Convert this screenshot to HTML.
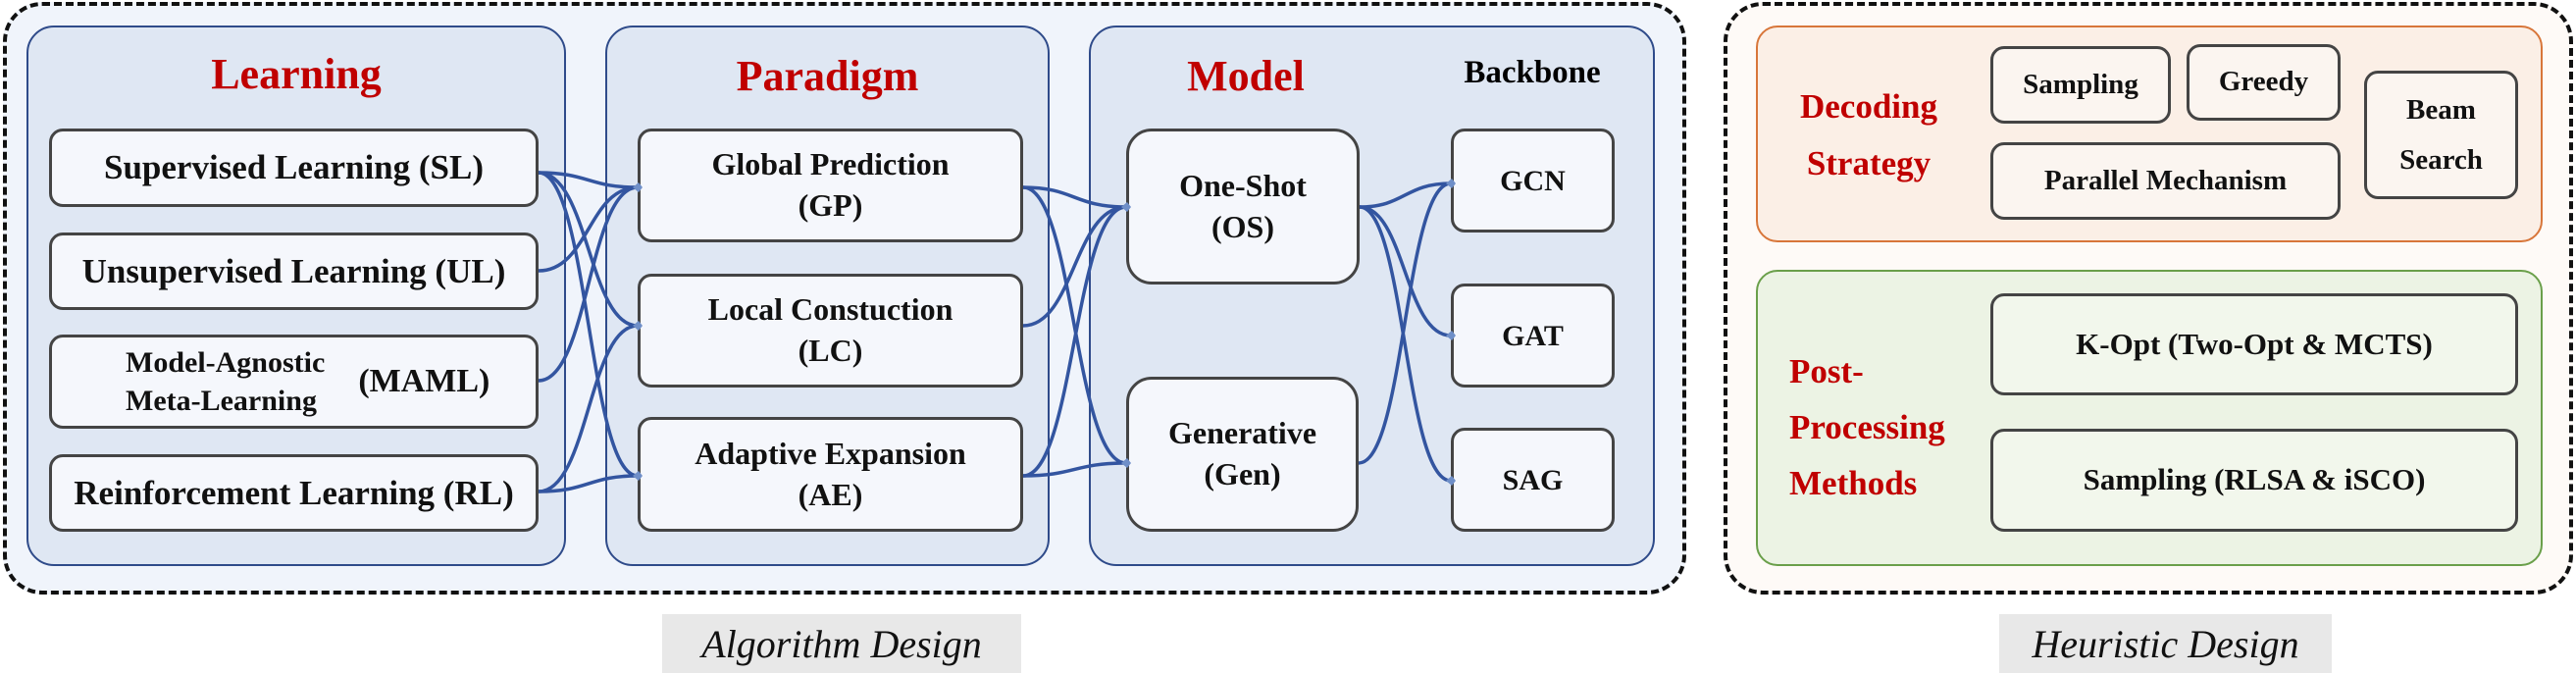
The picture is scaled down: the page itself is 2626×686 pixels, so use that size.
<!DOCTYPE html>
<html><head><meta charset="utf-8"><style>
body{margin:0;width:2626px;height:686px;background:#fff;position:relative;overflow:hidden;font-family:"Liberation Serif",serif;}
div{position:absolute;box-sizing:border-box;}
.dash{border:4px dashed #111;border-radius:40px;}
.panel{background:#dfe7f3;border:2px solid #2f4b8a;border-radius:28px;}
.box{background:#f5f7fc;border:3px solid #444;border-radius:14px;display:flex;align-items:center;justify-content:center;text-align:center;font-weight:bold;color:#111;line-height:1.3;white-space:nowrap;}
.t{font-weight:bold;color:#c00000;text-align:center;}
.lab{background:#e8e8e8;font-style:italic;font-size:40px;display:flex;align-items:center;justify-content:center;color:#111;}
</style></head><body>
<div class="dash" style="left:3px;top:2px;width:1716px;height:604px;background:#f0f4fb;"></div>
<div class="dash" style="left:1757px;top:2px;width:866px;height:604px;background:#fefaf7;"></div>

<div class="panel" style="left:27px;top:26px;width:550px;height:551px;"></div>
<div class="panel" style="left:617px;top:26px;width:453px;height:551px;"></div>
<div class="panel" style="left:1110px;top:26px;width:577px;height:551px;"></div>

<div class="t" style="left:27px;top:50px;width:550px;font-size:44px;">Learning</div>
<div class="t" style="left:617px;top:52px;width:453px;font-size:44px;">Paradigm</div>
<div class="t" style="left:1170px;top:52px;width:200px;font-size:44px;">Model</div>
<div style="left:1460px;top:56px;width:204px;text-align:center;font-weight:bold;font-size:33px;">Backbone</div>

<div class="box" style="left:50px;top:131px;width:499px;height:80px;font-size:35px;">Supervised Learning (SL)</div>
<div class="box" style="left:50px;top:237px;width:499px;height:79px;font-size:35px;">Unsupervised Learning (UL)</div>
<div class="box" style="left:50px;top:341px;width:499px;height:96px;font-size:30px;justify-content:flex-start;"><span style="margin-left:75px;text-align:left;line-height:1.3">Model-Agnostic<br>Meta-Learning</span><span style="margin-left:34px;font-size:34px;">(MAML)</span></div>
<div class="box" style="left:50px;top:463px;width:499px;height:79px;font-size:35px;">Reinforcement Learning (RL)</div>

<div class="box" style="left:650px;top:131px;width:393px;height:116px;font-size:32px;">Global Prediction<br>(GP)</div>
<div class="box" style="left:650px;top:279px;width:393px;height:116px;font-size:32px;">Local Constuction<br>(LC)</div>
<div class="box" style="left:650px;top:425px;width:393px;height:117px;font-size:32px;">Adaptive Expansion<br>(AE)</div>

<div class="box" style="left:1148px;top:131px;width:238px;height:159px;font-size:32px;border-radius:26px;">One-Shot<br>(OS)</div>
<div class="box" style="left:1148px;top:384px;width:237px;height:158px;font-size:32px;border-radius:26px;">Generative<br>(Gen)</div>
<div class="box" style="left:1479px;top:131px;width:167px;height:106px;font-size:30px;">GCN</div>
<div class="box" style="left:1479px;top:289px;width:167px;height:106px;font-size:30px;">GAT</div>
<div class="box" style="left:1479px;top:436px;width:167px;height:106px;font-size:30px;">SAG</div>

<svg style="position:absolute;left:0;top:0" width="2626" height="686">
<g fill="none" stroke="#3355a0" stroke-width="3.5">
<path d="M549 176 C600 176,600 191,650 191"/>
<path d="M549 176 C600 176,600 332,650 332"/>
<path d="M549 176 C600 176,600 485,650 485"/>
<path d="M549 276 C600 276,600 191,650 191"/>
<path d="M549 388 C600 388,600 191,650 191"/>
<path d="M549 501 C600 501,600 332,650 332"/>
<path d="M549 501 C600 501,600 485,650 485"/>
<path d="M1043 191 C1095 191,1095 211,1148 211"/>
<path d="M1043 191 C1095 191,1095 472,1148 472"/>
<path d="M1043 332 C1095 332,1095 211,1148 211"/>
<path d="M1043 485 C1095 485,1095 211,1148 211"/>
<path d="M1043 485 C1095 485,1095 472,1148 472"/>
<path d="M1386 211 C1432 211,1432 187,1479 187"/>
<path d="M1386 211 C1432 211,1432 342,1479 342"/>
<path d="M1386 211 C1432 211,1432 490,1479 490"/>
<path d="M1385 472 C1432 472,1432 187,1479 187"/>
</g>
<g fill="#6f8fc8">
<path d="M645 191l6-5 4 5-4 5z"/><path d="M645 332l6-5 4 5-4 5z"/><path d="M645 485l6-5 4 5-4 5z"/>
<path d="M1143 211l6-5 4 5-4 5z"/><path d="M1143 472l6-5 4 5-4 5z"/>
<path d="M1474 187l6-5 4 5-4 5z"/><path d="M1474 342l6-5 4 5-4 5z"/><path d="M1474 490l6-5 4 5-4 5z"/>
</g>
</svg>

<div style="left:1790px;top:26px;width:802px;height:221px;background:#fbefe6;border:2px solid #d8763a;border-radius:22px;"></div>
<div style="left:1790px;top:275px;width:802px;height:302px;background:#ecf3e4;border:2px solid #6a9f4a;border-radius:22px;"></div>
<div class="t" style="left:1810px;top:80px;width:190px;font-size:35px;line-height:58px;">Decoding<br>Strategy</div>
<div class="t" style="left:1824px;top:350px;width:200px;font-size:35px;line-height:57px;text-align:left;">Post-<br>Processing<br>Methods</div>
<div class="box" style="left:2029px;top:47px;width:184px;height:79px;font-size:29px;background:#fbf5f0;">Sampling</div>
<div class="box" style="left:2229px;top:45px;width:157px;height:78px;font-size:29px;background:#fbf5f0;">Greedy</div>
<div class="box" style="left:2029px;top:145px;width:357px;height:79px;font-size:29px;background:#fbf5f0;">Parallel Mechanism</div>
<div class="box" style="left:2410px;top:72px;width:157px;height:131px;font-size:29px;line-height:1.75;background:#fbf5f0;">Beam<br>Search</div>
<div class="box" style="left:2029px;top:299px;width:538px;height:104px;font-size:31px;background:#f2f7ec;">K-Opt (Two-Opt &amp; MCTS)</div>
<div class="box" style="left:2029px;top:437px;width:538px;height:105px;font-size:31px;background:#f2f7ec;">Sampling (RLSA &amp; iSCO)</div>

<div class="lab" style="left:675px;top:626px;width:366px;height:60px;">Algorithm Design</div>
<div class="lab" style="left:2038px;top:626px;width:339px;height:60px;">Heuristic Design</div>
</body></html>
